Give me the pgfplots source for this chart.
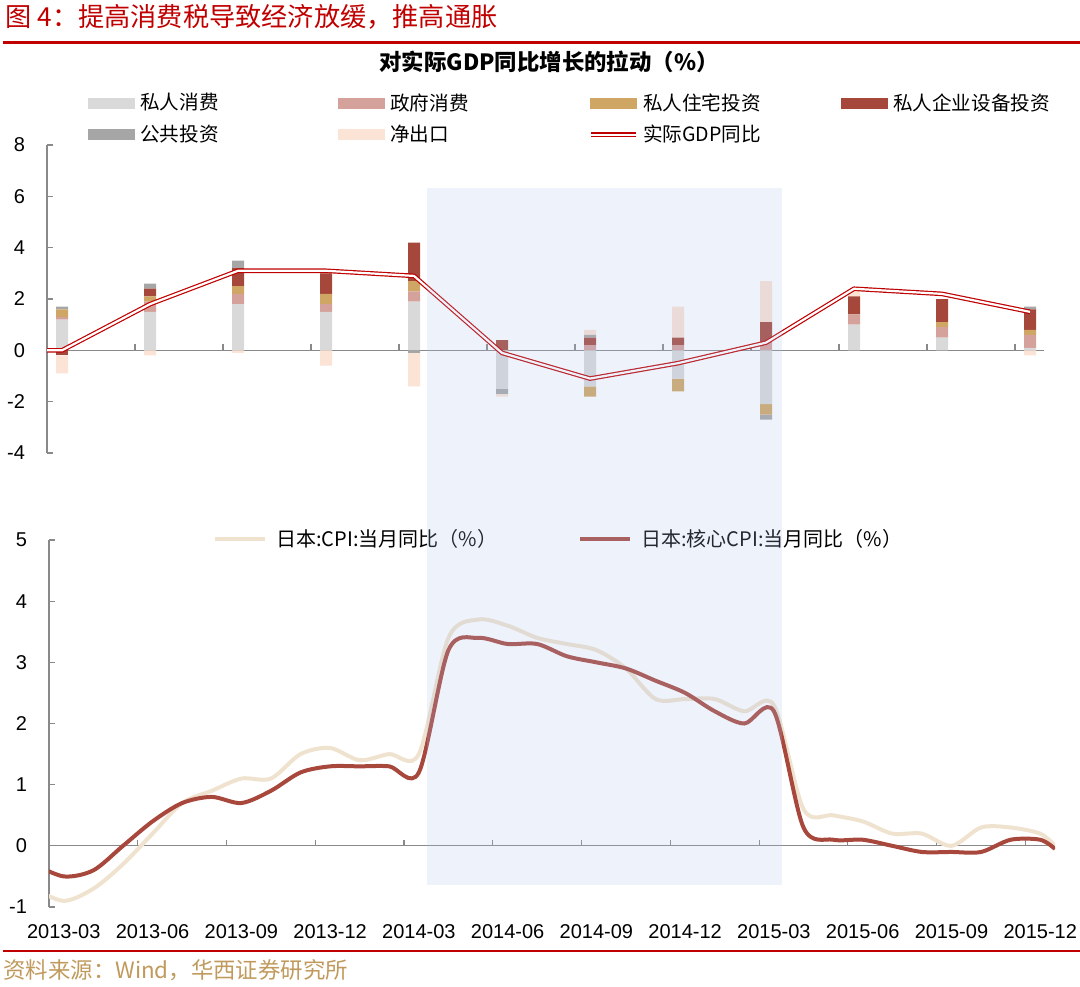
\documentclass[border=0pt]{standalone}
\usepackage{pgfplots}
\pgfplotsset{compat=1.18}
\usepackage{pgfplotstable}
\usepackage{fontspec}
\setmainfont{Liberation Sans}
\newfontfamily\cjk{Noto Sans CJK SC}

\definecolor{cRed}{HTML}{C00000}
\definecolor{cPC}{HTML}{D9D9D9}
\definecolor{cGC}{HTML}{D4A19B}
\definecolor{cRI}{HTML}{CFA664}
\definecolor{cEQ}{HTML}{A5473A}
\definecolor{cPI}{HTML}{A6A6A6}
\definecolor{cNX}{HTML}{FBE3D5}
\definecolor{cCPI}{HTML}{EFE3D0}
\definecolor{cCore}{HTML}{A8473C}
\definecolor{cAxis}{HTML}{898989}
\definecolor{cSrc}{HTML}{C09A5C}
\definecolor{cShade}{RGB}{174,193,231}

% contributions to real GDP growth (quarterly, 2013Q1 - 2015Q4)
\pgfplotstableread{
x  pc   gc   ri   eq   pi   nx
0  1.2  0.1  0.3  -0.2 0.1  -0.7
1  1.5  0.4  0.2  0.3  0.2  -0.2
2  1.8  0.4  0.3  0.7  0.3  -0.1
3  1.5  0.3  0.4  0.8  0.1  -0.6
4  1.9  0.4  0.4  1.5  -0.1 -1.3
5  -1.5 0.0  0.0  0.4  -0.2 -0.1
6  -1.4 0.2  -0.4 0.3  0.1  0.2
7  -1.1 0.2  -0.5 0.3  0.0  1.2
8  -2.1 0.3  -0.4 0.8  -0.2 1.6
9  1.0  0.4  0.0  0.7  0.0  0.2
10 0.5  0.4  0.2  0.9  0.0  0.0
11 0.1  0.5  0.2  0.8  0.1  -0.2
}\contrib

\pgfplotstableread{
x       g
-0.1705 0.0
0       0.0
1       1.8
2       3.1
3       3.1
4       2.9
5       -0.1
6       -1.1
7       -0.5
8       0.3
9       2.4
10      2.2
11      1.5
}\gdp

% monthly CPI yoy
\pgfplotstableread{
x    cpi  core
-0.5 -0.7 -0.3
0.5  -0.9 -0.5
1.5  -0.7 -0.4
2.5  -0.3 0.0
3.5  0.2  0.4
4.5  0.7  0.7
5.5  0.9  0.8
6.5  1.1  0.7
7.5  1.1  0.9
8.5  1.5  1.2
9.5  1.6  1.3
10.5 1.4  1.3
11.5 1.5  1.3
12.5 1.5  1.2
13.5 3.4  3.2
14.5 3.7  3.4
15.5 3.6  3.3
16.5 3.4  3.3
17.5 3.3  3.1
18.5 3.2  3.0
19.5 2.9  2.9
20.5 2.4  2.7
21.5 2.4  2.5
22.5 2.4  2.2
23.5 2.2  2.0
24.5 2.3  2.2
25.5 0.6  0.3
26.5 0.5  0.1
27.5 0.4  0.1
28.5 0.2  0.0
29.5 0.2  -0.1
30.5 0.0  -0.1
31.5 0.3  -0.1
32.5 0.3  0.1
33.5 0.2  0.1
34.0 0.0  -0.05
}\cpi

\pgfplotsset{
  topax/.style={at={(23.5pt,-226.5pt)}, anchor=south west, width=498.5pt, height=154pt,
    scale only axis, xmin=-0.1705, xmax=11.159, ymin=-4, ymax=8},
  noarrows/.style={axis line style={-}, x axis line style={-}, y axis line style={-},
    every inner x axis line/.append style={-}, every outer x axis line/.append style={-},
    every inner y axis line/.append style={-}, every outer y axis line/.append style={-}},
}

\begin{document}
\begin{tikzpicture}
\useasboundingbox (0pt,0pt) rectangle (540pt,-493pt);

\begin{scope}[x=0.5pt,y=-0.5pt]
% heading
\node[anchor=west, inner sep=0pt, text=cRed, font=\cjk\fontsize{13.1pt}{15pt}\selectfont] at (5,17) {图 4：提高消费税导致经济放缓，推高通胀};
\draw[cRed, line width=1.5pt] (3,42) -- (1080,42);
\node[font=\cjk\bfseries\fontsize{11.2pt}{13pt}\selectfont, inner sep=0pt] at (549,62) {对实际GDP同比增长的拉动（\%）};
\end{scope}

% ---------- top chart: positive stacks + axes + legend
\begin{axis}[topax, ybar stacked, bar width=6pt,
  axis y line=left, axis x line=middle, noarrows,
  axis line style={draw=cAxis, line width=0.6pt},
  hide obscured x ticks=false, hide obscured y ticks=false,
  ytick={-4,-2,0,2,4,6,8},
  xtick={0.83,1.83,2.83,3.83,4.83,5.83,6.83,7.83,8.83,9.83,10.83},
  xticklabel={\relax},
  tick align=inside, major tick length=3pt,
  tick style={draw=cAxis, line width=0.6pt},
  /pgf/number format/assume math mode=true,
  yticklabel style={font=\fontsize{10pt}{12pt}\selectfont, xshift=-7.5pt},
  legend columns=4, legend cell align=left,
  legend style={draw=none, fill=none, inner sep=0pt, at={(0.0411,1.169)}, anchor=north west,
    font=\cjk\fontsize{9.8pt}{11pt}\selectfont, nodes={inner sep=0pt}, row sep=6pt,
    /tikz/every odd column/.append style={column sep=2.5pt}},
]
\addplot[fill=cPC, draw=none, legend image code/.code={\fill[cPC] (0pt,-2.75pt) rectangle (23.5pt,2.75pt);}]
  table[x=x, y expr={max(\thisrow{pc},0)}]{\contrib};
\addlegendentry{\makebox[99pt][l]{私人消费}}
\addplot[fill=cGC, draw=none, legend image code/.code={\fill[cGC] (0pt,-2.75pt) rectangle (23.5pt,2.75pt);}]
  table[x=x, y expr={max(\thisrow{gc},0)}]{\contrib};
\addlegendentry{\makebox[99pt][l]{政府消费}}
\addplot[fill=cRI, draw=none, legend image code/.code={\fill[cRI] (0pt,-2.75pt) rectangle (23.5pt,2.75pt);}]
  table[x=x, y expr={max(\thisrow{ri},0)}]{\contrib};
\addlegendentry{\makebox[99pt][l]{私人住宅投资}}
\addplot[fill=cEQ, draw=none, legend image code/.code={\fill[cEQ] (0pt,-2.75pt) rectangle (23.5pt,2.75pt);}]
  table[x=x, y expr={max(\thisrow{eq},0)}]{\contrib};
\addlegendentry{私人企业设备投资}
\addplot[fill=cPI, draw=none, legend image code/.code={\fill[cPI] (0pt,-2.75pt) rectangle (23.5pt,2.75pt);}]
  table[x=x, y expr={max(\thisrow{pi},0)}]{\contrib};
\addlegendentry{\makebox[99pt][l]{公共投资}}
\addplot[fill=cNX, draw=none, legend image code/.code={\fill[cNX] (0pt,-2.75pt) rectangle (23.5pt,2.75pt);}]
  table[x=x, y expr={max(\thisrow{nx},0)}]{\contrib};
\addlegendentry{\makebox[99pt][l]{净出口}}
\addlegendimage{legend image code/.code={\draw[cRed, double=white, double distance=1.2pt, line width=0.6pt] (0.5pt,0pt) -- (23pt,0pt);}}
\addlegendentry{\makebox[99pt][l]{实际GDP同比}}
\end{axis}

% negative stacks
\begin{axis}[topax, hide axis, ybar stacked, bar width=6pt]
\addplot[fill=cPC, draw=none] table[x=x, y expr={min(\thisrow{pc},0)}]{\contrib};
\addplot[fill=cGC, draw=none] table[x=x, y expr={min(\thisrow{gc},0)}]{\contrib};
\addplot[fill=cRI, draw=none] table[x=x, y expr={min(\thisrow{ri},0)}]{\contrib};
\addplot[fill=cEQ, draw=none] table[x=x, y expr={min(\thisrow{eq},0)}]{\contrib};
\addplot[fill=cPI, draw=none] table[x=x, y expr={min(\thisrow{pi},0)}]{\contrib};
\addplot[fill=cNX, draw=none] table[x=x, y expr={min(\thisrow{nx},0)}]{\contrib};
\end{axis}

% GDP line
\begin{axis}[topax, hide axis]
\addplot[draw=cRed, double=white, double distance=1.1pt, line width=0.6pt, mark=none, line join=round]
  table[x=x, y=g]{\gdp};
\end{axis}

% ---------- bottom chart
\begin{axis}[at={(24.5pt,-453.5pt)}, anchor=south west, width=503pt, height=183.5pt, scale only axis,
  xmin=0, xmax=34, ymin=-1, ymax=5,
  axis y line=left, axis x line=middle, noarrows,
  axis line style={draw=cAxis, line width=0.6pt},
  hide obscured x ticks=false, hide obscured y ticks=false,
  ytick={-1,0,1,2,3,4,5},
  xtick={0,3,6,9,12,15,18,21,24,27,30,33},
  xticklabels={2013-03,2013-06,2013-09,2013-12,2014-03,2014-06,2014-09,2014-12,2015-03,2015-06,2015-09,2015-12},
  tick align=inside, major tick length=3pt,
  tick style={draw=cAxis, line width=0.6pt},
  /pgf/number format/assume math mode=true,
  yticklabel style={font=\fontsize{10pt}{12pt}\selectfont, xshift=-7.5pt},
  xticklabel style={font=\fontsize{10pt}{12pt}\selectfont, xshift=7.4pt, yshift=-36pt},
  legend columns=2, legend cell align=left,
  legend style={draw=none, fill=none, inner sep=0pt, at={(0.163,1.0027)}, anchor=west,
    font=\cjk\fontsize{10pt}{12pt}\selectfont, nodes={inner sep=0pt},
    /tikz/every odd column/.append style={column sep=4.5pt}},
]
\addplot[cCPI, line width=2pt, smooth, mark=none,
  legend image code/.code={\draw[cCPI, line width=2pt] (0pt,0pt) -- (25pt,0pt);}]
  table[x=x, y=cpi]{\cpi};
\addlegendentry{\makebox[151pt][l]{日本:CPI:当月同比（\%）}}
\addplot[cCore, line width=2pt, smooth, mark=none,
  legend image code/.code={\draw[cCore, line width=2pt] (0pt,0pt) -- (25pt,0pt);}]
  table[x=x, y=core]{\cpi};
\addlegendentry{日本:核心CPI:当月同比（\%）}
\end{axis}

\begin{scope}[x=0.5pt,y=-0.5pt]
% consumption-tax period shading
\fill[cShade, fill opacity=0.21] (427,188) rectangle (782,885);
% source
\draw[cRed, line width=1.2pt] (3,951) -- (1080,951);
\node[anchor=west, inner sep=0pt, text=cSrc, font=\cjk\fontsize{11.2pt}{13pt}\selectfont] at (3,970) {资料来源：Wind，华西证券研究所};
\end{scope}
\end{tikzpicture}
\end{document}
